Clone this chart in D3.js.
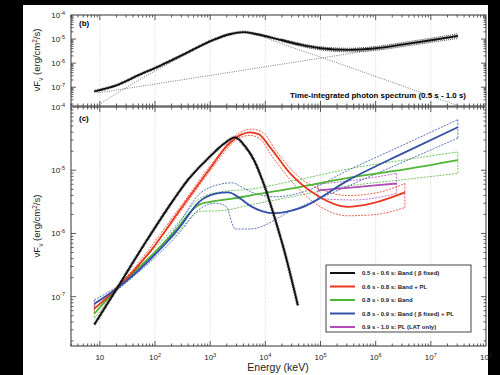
<!DOCTYPE html>
<html>
<head>
<meta charset="utf-8">
<script src="https://cdn.jsdelivr.net/npm/d3@7"></script>
<style>
body { margin: 0; background: #000; }
svg { display: block; font-family: "Liberation Sans", Arial, sans-serif; }
</style>
</head>
<body>
<svg id="fig" width="500" height="375"></svg>
<script>
// values as [log10(E / keV), log10(nuFnu)]

// panel (b): time-integrated spectrum
var bTotal = [[0.9,-7.17],[1.3,-6.92],[1.7,-6.5],[2.1,-6.1],[2.5,-5.66],[3.05,-5.04],[3.35,-4.8],[3.6,-4.71],[3.85,-4.8],[4.3,-5.05],[4.65,-5.24],[5.0,-5.38],[5.5,-5.45],[6.0,-5.38],[6.5,-5.22],[7.0,-5.05],[7.49,-4.87]];
var bTotalHi = [[4.3,-5.0],[5.0,-5.32],[5.5,-5.38],[6.0,-5.31],[6.5,-5.14],[7.0,-4.96],[7.49,-4.78]];
var bTotalLo = [[4.3,-5.1],[5.0,-5.45],[5.5,-5.53],[6.0,-5.47],[6.5,-5.31],[7.0,-5.14],[7.49,-4.97]];
var bBand = [[0.95,-7.78],[1.5,-6.98],[2.1,-6.2],[2.5,-5.7],[3.05,-5.07],[3.35,-4.83],[3.6,-4.74],[3.85,-4.84],[4.3,-5.2],[4.99,-5.74],[7.35,-7.65],[7.51,-7.78]];
var bPL = [[0.96,-7.24],[7.49,-4.9]];

// panel (c): time-resolved spectra
var cBlack = [[0.9,-7.44],[1.31,-6.87],[1.8,-6.18],[2.31,-5.5],[2.6,-5.15],[3.0,-4.78],[3.25,-4.58],[3.45,-4.48],[3.63,-4.62],[3.8,-4.85],[3.96,-5.19],[4.21,-5.87],[4.32,-6.2],[4.59,-7.14]];

var cRed = [[0.9,-7.19],[1.31,-6.87],[1.9,-6.3],[2.45,-5.63],[3.0,-4.97],[3.3,-4.62],[3.55,-4.44],[3.72,-4.4],[3.88,-4.43],[4.08,-4.63],[4.45,-5.05],[4.94,-5.4],[5.48,-5.58],[5.95,-5.52],[6.53,-5.35]];
var cRedHi = [[0.9,-7.13],[1.31,-6.84],[2.45,-5.59],[3.0,-4.93],[3.55,-4.4],[3.75,-4.35],[3.95,-4.4],[4.2,-4.7],[4.6,-5.1],[5.0,-5.3],[5.5,-5.4],[6.0,-5.36],[6.53,-5.21]];
var cRedLo = [[0.9,-7.26],[1.31,-6.9],[2.45,-5.67],[3.0,-5.01],[3.55,-4.48],[3.72,-4.45],[3.9,-4.5],[4.1,-4.75],[4.5,-5.2],[5.0,-5.58],[5.5,-5.72],[6.0,-5.7],[6.53,-5.59]];

var cGreen = [[0.9,-7.27],[1.31,-6.87],[1.9,-6.38],[2.45,-5.87],[2.65,-5.65],[2.81,-5.54],[3.0,-5.5],[3.4,-5.45],[3.72,-5.4],[4.6,-5.27],[5.5,-5.12],[6.5,-4.99],[7.49,-4.84]];
var cGreenHi = [[0.9,-7.2],[1.31,-6.84],[2.45,-5.8],[2.8,-5.45],[3.2,-5.34],[3.72,-5.3],[4.6,-5.15],[5.5,-4.98],[6.5,-4.84],[7.49,-4.71]];
var cGreenLo = [[0.9,-7.34],[1.31,-6.9],[2.45,-5.95],[2.8,-5.65],[3.2,-5.64],[3.72,-5.55],[4.6,-5.4],[5.5,-5.25],[6.5,-5.15],[7.49,-5.05]];

var cBlue = [[0.9,-7.11],[1.31,-6.87],[1.9,-6.42],[2.45,-5.9],[2.8,-5.5],[3.1,-5.37],[3.33,-5.35],[3.55,-5.45],[3.72,-5.56],[3.95,-5.65],[4.17,-5.68],[4.63,-5.6],[5.5,-5.16],[6.5,-4.73],[7.49,-4.32]];
var cBlueHi = [[0.9,-7.05],[1.31,-6.84],[2.45,-5.82],[2.8,-5.38],[3.1,-5.24],[3.4,-5.2],[3.6,-5.28],[3.85,-5.38],[4.2,-5.42],[4.7,-5.34],[5.5,-5.0],[6.5,-4.6],[7.49,-4.2]];
var cBlueLo = [[0.9,-7.18],[1.31,-6.9],[2.45,-5.98],[2.8,-5.62],[3.1,-5.52],[3.3,-5.58],[3.4,-5.85],[3.45,-5.93],[3.72,-5.93],[4.5,-5.63],[5.5,-5.25],[6.5,-4.87],[7.49,-4.49]];

var cMagenta = [[4.95,-5.32],[5.6,-5.27],[6.38,-5.21]];
var cMagentaHi = [[4.95,-5.22],[5.6,-5.16],[6.38,-5.05]];
var cMagentaLo = [[4.95,-5.45],[5.6,-5.47],[6.38,-5.37]];

var legendLabels = ["0.5 s - 0.6 s: Band ( \u03b2 fixed)", "0.6 s - 0.8 s: Band + PL", "0.8 s - 0.9 s: Band",
                    "0.8 s - 0.9 s: Band ( \u03b2 fixed) + PL", "0.9 s - 1.0 s: PL (LAT only)"];
var legendColors = ["#111111", "#e8391d", "#4fb535", "#3450a8", "#b44ab8"];

var xTickExp = [1, 2, 3, 4, 5, 6, 7, 8];
var yTickExp = [-4, -5, -6, -7];

// layout
var X0 = 71, X1 = 486;
var B_TOP = 15, B_BOT = 106;
var C_TOP = 107, C_BOT = 346;
var F_MIN = Math.pow(10, -7.78), F_MAX = 1e-4;

var svg = d3.select("#fig");
svg.append("rect").attr("x", 23).attr("y", 5).attr("width", 465).attr("height", 370).attr("fill", "#fff");

var x = d3.scaleLog().domain([3, 1e8]).range([X0, X1]);
var yb = d3.scaleLog().domain([F_MIN, F_MAX]).range([B_BOT, B_TOP]);
var yc = d3.scaleLog().domain([F_MIN, F_MAX]).range([C_BOT, C_TOP]);

var xMinor = [];
for (var k = 0; k <= 7; k++)
    for (var m = 1; m <= 9; m++) {
        var v = m * Math.pow(10, k);
        if (v >= 3 && v <= 1e8) xMinor.push(v);
    }
var yMinor = [];
for (var k = -8; k <= -5; k++)
    for (var m = 1; m <= 9; m++) {
        var v = m * Math.pow(10, k);
        if (v >= F_MIN && v <= F_MAX) yMinor.push(v);
    }

function lineFor(y) {
    return d3.line()
        .x(function(d) { return x(Math.pow(10, d[0])); })
        .y(function(d) { return y(Math.pow(10, d[1])); })
        .curve(d3.curveMonotoneX);
}

function panel(id, y, top, bot) {
    svg.append("clipPath").attr("id", id)
        .append("rect").attr("x", X0).attr("y", top).attr("width", X1 - X0).attr("height", bot - top);
    var g = svg.append("g");
    // grid
    g.selectAll(".gx").data(xTickExp.filter(function(e) { return e < 8; })).enter().append("line")
        .attr("x1", function(e) { return x(Math.pow(10, e)); })
        .attr("x2", function(e) { return x(Math.pow(10, e)); })
        .attr("y1", top).attr("y2", bot)
        .attr("stroke", "#c4c4c4").attr("stroke-width", 0.7).attr("stroke-dasharray", "1,1.5");
    g.selectAll(".gy").data(yTickExp.filter(function(e) { return e > -4; })).enter().append("line")
        .attr("y1", function(e) { return y(Math.pow(10, e)); })
        .attr("y2", function(e) { return y(Math.pow(10, e)); })
        .attr("x1", X0).attr("x2", X1)
        .attr("stroke", "#c4c4c4").attr("stroke-width", 0.7).attr("stroke-dasharray", "1,1.5");
    // ticks on all four sides, pointing inward
    var tk = g.append("g").attr("stroke", "#333").attr("stroke-width", 0.8);
    xMinor.forEach(function(v) {
        var len = (Math.log10(v) % 1 === 0) ? 5 : 2.5;
        tk.append("line").attr("x1", x(v)).attr("x2", x(v)).attr("y1", bot).attr("y2", bot - len);
        tk.append("line").attr("x1", x(v)).attr("x2", x(v)).attr("y1", top).attr("y2", top + len);
    });
    yMinor.forEach(function(v) {
        var len = (Math.abs(Math.log10(v) % 1) < 1e-9) ? 5 : 2.5;
        tk.append("line").attr("y1", y(v)).attr("y2", y(v)).attr("x1", X0).attr("x2", X0 + len);
        tk.append("line").attr("y1", y(v)).attr("y2", y(v)).attr("x1", X1).attr("x2", X1 - len);
    });
    g.append("rect").attr("x", X0).attr("y", top).attr("width", X1 - X0).attr("height", bot - top)
        .attr("fill", "none").attr("stroke", "#333").attr("stroke-width", 1);
    // y tick labels
    var lab = g.selectAll(".yl").data(yTickExp).enter().append("text")
        .attr("x", 65).attr("y", function(e) { return y(Math.pow(10, e)) + 3; })
        .attr("text-anchor", "end").attr("font-size", 8).attr("fill", "#222");
    lab.append("tspan").text("10");
    lab.append("tspan").attr("dy", -3.5).attr("font-size", 5.5).text(function(e) { return "-" + (-e); });
    return svg.append("g").attr("clip-path", "url(#" + id + ")");
}

function yTitle(cy) {
    var t = svg.append("text").attr("transform", "translate(40," + cy + ") rotate(-90)")
        .attr("text-anchor", "middle").attr("font-size", 9.5).attr("fill", "#222");
    t.append("tspan").text("\u03bdF");
    t.append("tspan").attr("dy", 2.5).attr("font-size", 6.5).text("\u03bd");
    t.append("tspan").attr("dy", -2.5).text(" (erg/cm");
    t.append("tspan").attr("dy", -3.5).attr("font-size", 6.5).text("2");
    t.append("tspan").attr("dy", 3.5).text("/s)");
}

function draw(g, data, line, color, width, dash) {
    var p = g.append("path").datum(data).attr("d", line)
        .attr("fill", "none").attr("stroke", color).attr("stroke-width", width);
    if (dash) p.attr("stroke-dasharray", dash);
    return p;
}

// dashed error contour: upper and lower curves joined at both ends
function band(g, hi, lo, line, y, color) {
    draw(g, hi, line, color, 0.8, "2,1.2");
    draw(g, lo, line, color, 0.8, "2,1.2");
    [[hi[0], lo[0]], [hi[hi.length - 1], lo[lo.length - 1]]].forEach(function(pair) {
        g.append("line")
            .attr("x1", x(Math.pow(10, pair[0][0]))).attr("x2", x(Math.pow(10, pair[1][0])))
            .attr("y1", y(Math.pow(10, pair[0][1]))).attr("y2", y(Math.pow(10, pair[1][1])))
            .attr("stroke", color).attr("stroke-width", 0.8).attr("stroke-dasharray", "2,1.2");
    });
}

// thick black line with a fine hatched error band
function hatched(g, data, line) {
    draw(g, data, line, "#444", 3.4, "0.5,1.1");
    draw(g, data, line, "#111", 1.9, null);
}

// ---- panel (b)
var gb = panel("clipb", yb, B_TOP, B_BOT);
var lb = lineFor(yb);
draw(gb, bBand, lb, "#444", 0.7, "1,1.3");
draw(gb, bPL, lb, "#444", 0.7, "1,1.3");
draw(gb, bTotalHi, lb, "#222", 0.8, "1,1");
draw(gb, bTotalLo, lb, "#222", 0.8, "1,1");
hatched(gb, bTotal, lb);

svg.append("text").attr("x", 79).attr("y", 26).attr("font-size", 8).attr("font-weight", "bold").text("(b)");
svg.append("text").attr("x", 466).attr("y", 98).attr("text-anchor", "end")
    .attr("font-size", 7.5).attr("font-weight", "bold")
    .attr("textLength", 176).attr("lengthAdjust", "spacingAndGlyphs")
    .text("Time-integrated photon spectrum (0.5 s - 1.0 s)");

// ---- panel (c)
var gc = panel("clipc", yc, C_TOP, C_BOT);
var lc = lineFor(yc);
band(gc, cGreenHi, cGreenLo, lc, yc, legendColors[2]);
band(gc, cMagentaHi, cMagentaLo, lc, yc, legendColors[4]);
band(gc, cRedHi, cRedLo, lc, yc, legendColors[1]);
band(gc, cBlueHi, cBlueLo, lc, yc, legendColors[3]);
draw(gc, cGreen, lc, legendColors[2], 1.8, null);
draw(gc, cMagenta, lc, legendColors[4], 1.8, null);
draw(gc, cRed, lc, legendColors[1], 1.8, null);
draw(gc, cBlue, lc, legendColors[3], 1.8, null);
hatched(gc, cBlack, lc);

svg.append("text").attr("x", 79).attr("y", 121).attr("font-size", 8).attr("font-weight", "bold").text("(c)");

// x tick labels
var xl = svg.selectAll(".xl").data(xTickExp).enter().append("text")
    .attr("x", function(e) { return x(Math.pow(10, e)); })
    .attr("y", 360).attr("text-anchor", "middle").attr("font-size", 8).attr("fill", "#222");
xl.append("tspan").text("10");
xl.append("tspan").attr("dy", -3.5).attr("font-size", 5.5).text(function(e) { return e > 1 ? e : ""; });

svg.append("text").attr("x", 278).attr("y", 371).attr("text-anchor", "middle")
    .attr("font-size", 10.5).attr("fill", "#222").text("Energy (keV)");

yTitle(60);
yTitle(226);

// legend
var leg = svg.append("g");
leg.append("rect").attr("x", 326).attr("y", 265).attr("width", 145).attr("height", 67)
    .attr("fill", "#fff").attr("stroke", "#444").attr("stroke-width", 1);
var items = leg.selectAll(".li").data(legendLabels).enter().append("g")
    .attr("transform", function(d, i) { return "translate(0," + (273 + i * 13.5) + ")"; });
items.append("line").attr("x1", 330).attr("x2", 355).attr("y1", 0).attr("y2", 0)
    .attr("stroke", function(d, i) { return legendColors[i]; }).attr("stroke-width", 2);
items.append("text").attr("x", 362).attr("y", 2.2).attr("font-size", 6).attr("font-weight", "bold")
    .attr("fill", "#222").text(function(d) { return d; });
</script>
</body>
</html>
